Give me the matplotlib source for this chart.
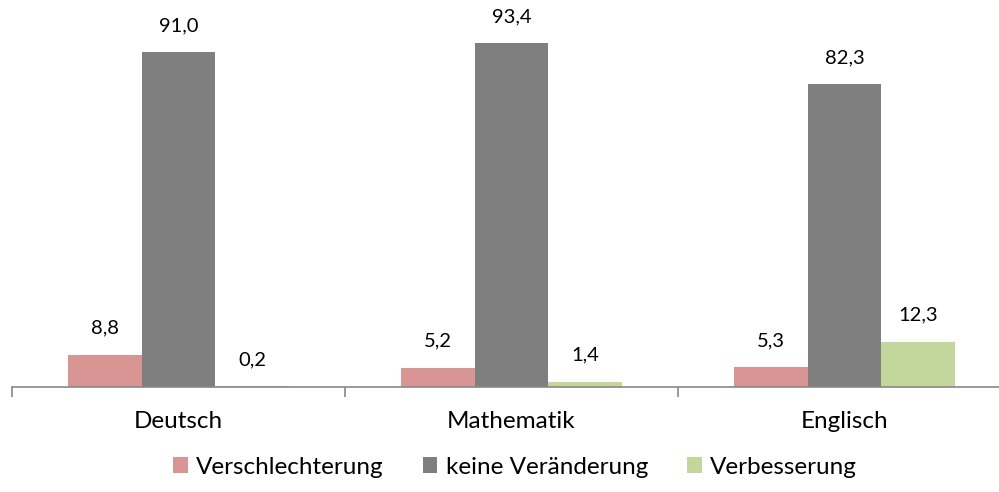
import matplotlib
matplotlib.use("Agg")
import matplotlib.pyplot as plt
import numpy as np

categories = ["Deutsch", "Mathematik", "Englisch"]
series_names = ["Verschlechterung", "keine Veränderung", "Verbesserung"]
verschlechterung = [8.8, 5.2, 5.3]
keine = [91.0, 93.4, 82.3]
verbesserung = [0.2, 1.4, 12.3]
colors = ["#D99594", "#7F7F7F", "#C3D69B"]

plt.rcParams['font.family'] = ['Lato', 'DejaVu Sans']

W, H = 999, 492
fig = plt.figure(figsize=(W/100, H/100), dpi=100)
left, right, base, top = 12, 1011, 387, 19
ax = fig.add_axes([left/W, (H-base)/H, (right-left)/W, (base-top)/H])

x = np.arange(len(categories))
bw = 0.222
all_series = [verschlechterung, keine, verbesserung]
for i, (vals, c, name) in enumerate(zip(all_series, colors, series_names)):
    pos = x + (i-1)*bw
    ax.bar(pos, vals, width=bw, color=c, label=name, zorder=2)
    for p, v in zip(pos, vals):
        ax.annotate(f"{v:.1f}".replace(".", ","), (p, v), xytext=(0, 13),
                    textcoords="offset points", ha="center", va="bottom", fontsize=14.5)

ax.set_xlim(-0.5, len(categories)-0.5)
ax.set_ylim(0, 100)
for s in ["top", "right", "left"]:
    ax.spines[s].set_visible(False)
ax.spines["bottom"].set_color("#888888")
ax.spines["bottom"].set_linewidth(1.2)
ax.set_yticks([])
ax.set_xticks(np.arange(len(categories)+1)-0.5, minor=False)
ax.set_xticklabels([])
ax.tick_params(axis="x", length=7, color="#888888", width=1.2)
for xi, cat in zip(x, categories):
    ax.text(xi, -0.093, cat, transform=ax.get_xaxis_transform(), ha="center", va="center", fontsize=17.5)

handles, labels = ax.get_legend_handles_labels()
fig.legend(handles, labels, loc="center", bbox_to_anchor=(515/W, 1-467/H), ncol=3, frameon=False,
           fontsize=17.5, handlelength=0.6, handleheight=0.6, handletextpad=0.35, columnspacing=1.6)

fig.savefig("out.png", dpi=100)
